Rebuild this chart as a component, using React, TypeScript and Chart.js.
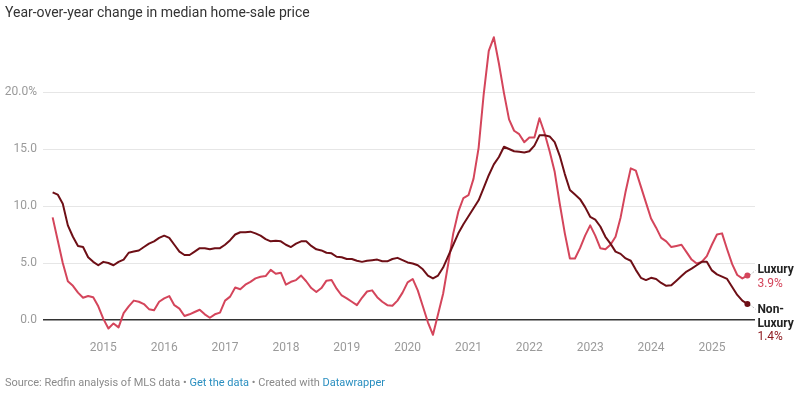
import React, { useEffect, useRef } from 'react';
import { Chart, registerables } from 'chart.js';

Chart.register(...registerables);

// Monthly series, March 2014 – August 2025 (year-over-year % change)
const startYear = 2014;
const startMonth = 3;

const luxury = [
  9.0, 7.0, 5.0, 3.4, 3.0, 2.4, 1.95, 2.1, 2.0, 1.2,
  0.1, -0.75, -0.3, -0.65, 0.6, 1.2, 1.7, 1.6, 1.4, 0.95,
  0.85, 1.6, 1.9, 2.1, 1.3, 1.0, 0.35, 0.5, 0.7, 0.9,
  0.5, 0.2, 0.5, 0.65, 1.7, 2.05, 2.85, 2.7, 3.1, 3.35,
  3.65, 3.8, 3.85, 4.4, 4.05, 4.15,
  3.1, 3.35, 3.5, 3.9, 3.4, 2.8, 2.45, 2.8, 3.45, 3.5,
  2.75, 2.15, 1.9, 1.6, 1.3, 1.95, 2.5, 2.6, 2.0, 1.6,
  1.3, 1.25, 1.7, 2.4, 3.3, 3.6, 2.6, 1.2, -0.2, -1.3,
  0.5, 2.3, 4.9, 7.6, 9.5,
  10.7, 10.95, 12.4, 15.1, 19.8, 23.6, 24.8, 22.5, 19.9, 17.6,
  16.6, 16.3, 15.6, 16.0, 16.0, 17.7, 16.4, 14.8, 13.0,
  10.2, 7.6, 5.4, 5.4, 6.3, 7.4, 8.3, 7.4, 6.3, 6.2,
  6.6, 7.3, 9.0, 11.3, 13.3, 13.1, 11.7, 10.3, 8.9, 8.1,
  7.2, 6.9, 6.4, 6.5, 6.6, 5.95, 5.3, 4.95, 5.1, 5.6,
  6.6, 7.5, 7.6, 6.2, 4.9, 3.95, 3.65, 3.9,
];

const nonLuxury = [
  11.2, 11.0, 10.2, 8.3, 7.3, 6.5, 6.4, 5.5, 5.1, 4.8,
  5.1, 5.0, 4.8, 5.1, 5.3, 5.9, 6.0, 6.1, 6.4, 6.7,
  6.9, 7.2, 7.4, 7.2, 6.6, 6.0, 5.7, 5.7, 6.0, 6.3,
  6.3, 6.2, 6.3, 6.3, 6.6, 7.0, 7.5, 7.7, 7.7, 7.75,
  7.6, 7.4, 7.1, 6.9, 6.95, 6.9,
  6.6, 6.4, 6.7, 6.9, 6.9, 6.5, 6.2, 6.1, 5.9, 5.85,
  5.55, 5.5, 5.35, 5.35, 5.2, 5.1, 5.2, 5.25, 5.3, 5.15,
  5.15, 5.35, 5.45, 5.25, 5.05, 4.95, 4.8, 4.45, 3.9, 3.65,
  3.9, 4.6, 5.6, 6.6, 7.6,
  8.4, 9.1, 9.8, 10.5, 11.6, 12.7, 13.65, 14.3, 15.2, 15.0,
  14.8, 14.75, 14.7, 14.8, 15.3, 16.2, 16.2, 16.1, 15.6,
  14.4, 12.8, 11.4, 11.0, 10.6, 9.9, 9.05, 8.8, 8.2, 7.3,
  6.7, 6.0, 5.8, 5.4, 5.2, 4.4, 3.7, 3.5, 3.7, 3.6,
  3.25, 3.0, 3.05, 3.45, 3.85, 4.25, 4.5, 4.8, 5.1, 5.1,
  4.35, 4.0, 3.8, 3.6, 2.9, 2.2, 1.7, 1.4,
];

const yearTicks = [2015, 2016, 2017, 2018, 2019, 2020, 2021, 2022, 2023, 2024, 2025];
const yTicks = [0, 5, 10, 15, 20];

const nonLuxuryName = ['Non-', 'Luxury'];
const luxuryName = ['Luxury'];

const titleText = 'Year-over-year change in median home-sale price';

const LUX_COLOR = '#d4455b';
const NONLUX_COLOR = '#6e0f16';
const NONLUX_VALUE_COLOR = '#8e1b20';
const FONT = 'Roboto, "Noto Sans", sans-serif';

const monthIndex = (i: number) => (startYear - 2014) * 12 + (startMonth - 1) + i;
const toPoints = (arr: number[]) => arr.map((v, i) => ({ x: monthIndex(i), y: v }));

const endLabelPlugin = {
  id: 'endLabels',
  afterDatasetsDraw(chart: any) {
    const ctx = chart.ctx;
    const cfgs = [
      { names: nonLuxuryName, valueColor: NONLUX_VALUE_COLOR, dir: 1 },
      { names: luxuryName, valueColor: LUX_COLOR, dir: -1 },
    ];
    chart.data.datasets.forEach((ds: any, di: number) => {
      const meta = chart.getDatasetMeta(di);
      const pt = meta.data[meta.data.length - 1];
      if (!pt) return;
      const cfg = cfgs[di];
      const last = ds.data[ds.data.length - 1].y;
      const x0 = pt.x;
      const y0 = pt.y;
      const lx = x0 + 10;
      ctx.save();
      // dotted connector
      ctx.strokeStyle = '#777';
      ctx.lineWidth = 1;
      ctx.setLineDash([1, 2]);
      ctx.beginPath();
      ctx.moveTo(x0 + 3, y0 + cfg.dir * 1);
      ctx.lineTo(lx - 2, y0 + cfg.dir * 5);
      ctx.stroke();
      ctx.setLineDash([]);
      ctx.textAlign = 'left';
      ctx.textBaseline = 'middle';
      let ty = cfg.dir > 0 ? y0 + 6 : y0 - 5.5;
      ctx.font = `bold 12px ${FONT}`;
      ctx.fillStyle = '#222';
      cfg.names.forEach((n: string) => {
        ctx.fillText(n, lx, ty);
        ty += 13.6;
      });
      ctx.font = `12px ${FONT}`;
      ctx.fillStyle = cfg.valueColor;
      ctx.fillText(`${last.toFixed(1)}%`, lx, ty);
      ctx.restore();
    });
  },
};

export default function App() {
  const canvasRef = useRef<HTMLCanvasElement | null>(null);

  useEffect(() => {
    if (!canvasRef.current) return;
    Chart.defaults.font.family = FONT;
    const n = luxury.length;
    const chart = new Chart(canvasRef.current, {
      type: 'line',
      data: {
        datasets: [
          {
            label: 'Non-Luxury',
            data: toPoints(nonLuxury),
            borderColor: NONLUX_COLOR,
            backgroundColor: NONLUX_COLOR,
            borderWidth: 2,
            tension: 0,
            borderJoinStyle: 'round',
            pointRadius: (c: any) => (c.dataIndex === n - 1 ? 3 : 0),
            pointBorderWidth: 0,
            pointBackgroundColor: NONLUX_COLOR,
          },
          {
            label: 'Luxury',
            data: toPoints(luxury),
            borderColor: LUX_COLOR,
            backgroundColor: LUX_COLOR,
            borderWidth: 2,
            tension: 0,
            borderJoinStyle: 'round',
            pointRadius: (c: any) => (c.dataIndex === n - 1 ? 3 : 0),
            pointBorderWidth: 0,
            pointBackgroundColor: LUX_COLOR,
          },
        ],
      } as any,
      options: {
        responsive: false,
        animation: false,
        devicePixelRatio: 1,
        layout: { padding: { top: 29.3, bottom: 35.9, left: 0, right: 45 } },
        plugins: {
          legend: { display: false },
          tooltip: { enabled: false },
          title: { display: false },
        },
        scales: {
          x: {
            type: 'linear',
            min: 0.1,
            max: 140.5,
            grid: { display: false, drawTicks: false, tickLength: 0 },
            border: { display: false },
            afterBuildTicks: (s: any) => {
              s.ticks = yearTicks.map((y) => ({ value: (y - 2014) * 12 }));
            },
            afterFit: (s: any) => {
              s.height = 20;
            },
            ticks: {
              autoSkip: false,
              maxRotation: 0,
              padding: 4,
              color: '#9a9a9a',
              font: { size: 12, family: FONT },
              callback: (v: any) => String(2014 + Math.round(Number(v) / 12)),
            },
          },
          y: {
            type: 'linear',
            min: -1.5,
            max: 25.5,
            afterBuildTicks: (s: any) => {
              s.ticks = yTicks.map((v) => ({ value: v }));
            },
            afterFit: (s: any) => {
              s.width = 43;
            },
            grid: {
              color: (c: any) => (c.tick && c.tick.value === 0 ? '#333333' : '#e6e6e6'),
              lineWidth: (c: any) => (c.tick && c.tick.value === 0 ? 1.5 : 1),
              drawTicks: false,
              tickLength: 0,
            },
            border: { display: false },
            ticks: {
              padding: 6,
              color: '#9a9a9a',
              font: { size: 12, family: FONT },
              callback: (v: any) => (Number(v) === 20 ? '20.0%' : Number(v).toFixed(1)),
            },
          },
        },
      } as any,
      plugins: [endLabelPlugin],
    });
    return () => chart.destroy();
  }, []);

  return (
    <div
      style={{
        position: 'absolute',
        left: 0,
        top: 0,
        width: 800,
        height: 393,
        background: '#fff',
        fontFamily: FONT,
        overflow: 'hidden',
      }}
    >
      <canvas
        ref={canvasRef}
        width={800}
        height={393}
        style={{ position: 'absolute', left: 0, top: 0, width: 800, height: 393, display: 'block' }}
      />
      <div
        style={{
          position: 'absolute',
          left: 5,
          top: 5,
          fontSize: 14,
          lineHeight: 1,
          color: '#333',
          whiteSpace: 'nowrap',
        }}
      >
        {titleText}
      </div>
      <div
        style={{
          position: 'absolute',
          left: 5,
          top: 376.5,
          fontSize: 11,
          lineHeight: 1,
          color: '#8a8a8a',
          whiteSpace: 'nowrap',
        }}
      >
        Source: Redfin analysis of MLS data • <span style={{ color: '#2a8fc0' }}>Get the data</span> • Created with{' '}
        <span style={{ color: '#2a8fc0' }}>Datawrapper</span>
      </div>
    </div>
  );
}
